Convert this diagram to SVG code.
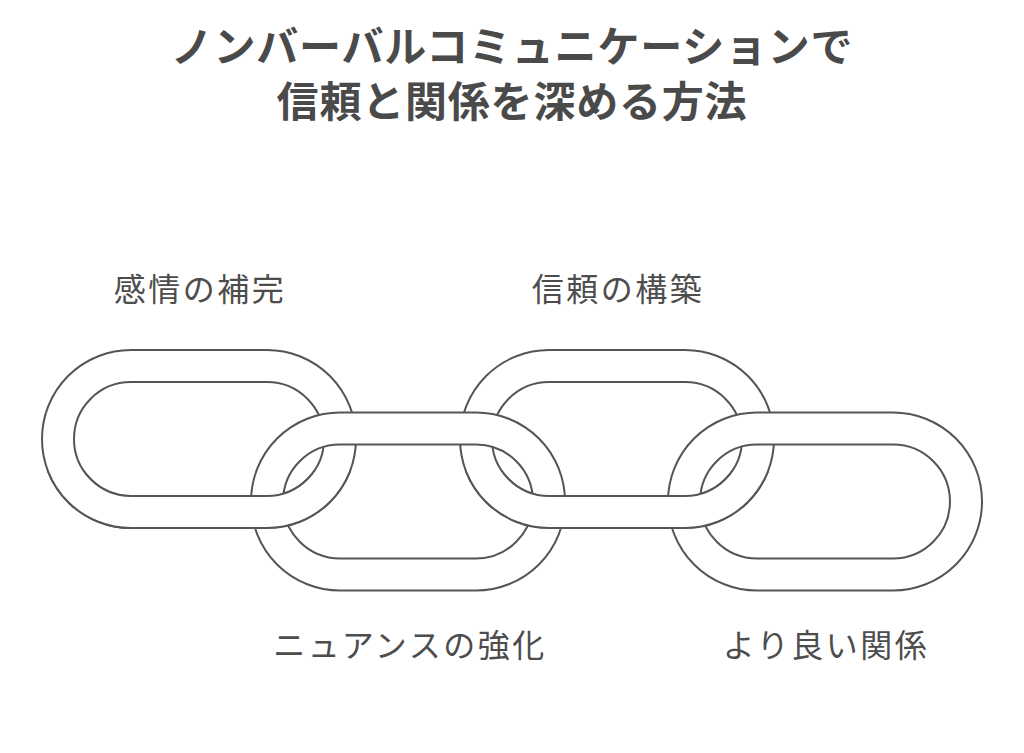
<svg xmlns="http://www.w3.org/2000/svg" xmlns:xlink="http://www.w3.org/1999/xlink" width="1024" height="753" viewBox="0 0 1024 753">
  <style>
    .ring { fill: #ffffff; fill-rule: evenodd; stroke: #555555; stroke-width: 2; }
    .title { font-family: "Noto Sans CJK JP", "Noto Sans", sans-serif; font-weight: 700; font-size: 42px; letter-spacing: 0.8px; fill: #4a4a4a; text-anchor: middle; }
    .label { font-family: "Noto Sans CJK JP", "Noto Sans", sans-serif; font-weight: 400; font-size: 32px; letter-spacing: 2.5px; fill: #4d4d4d; text-anchor: middle; }
  </style>
  <defs>
    <path id="ring1" d="M131,350 H267 A89,89 0 0 1 267,528 H131 A89,89 0 0 1 131,350 Z M131,382 H267 A57,57 0 0 1 267,496 H131 A57,57 0 0 1 131,382 Z"/>
    <path id="ring2" d="M340,412.5 H476 A89,89 0 0 1 476,590.5 H340 A89,89 0 0 1 340,412.5 Z M340,444.5 H476 A57,57 0 0 1 476,558.5 H340 A57,57 0 0 1 340,444.5 Z"/>
    <path id="ring3" d="M549,350 H685 A89,89 0 0 1 685,528 H549 A89,89 0 0 1 549,350 Z M549,382 H685 A57,57 0 0 1 685,496 H549 A57,57 0 0 1 549,382 Z"/>
    <path id="ring4" d="M757,412.5 H893 A89,89 0 0 1 893,590.5 H757 A89,89 0 0 1 757,412.5 Z M757,444.5 H893 A57,57 0 0 1 893,558.5 H757 A57,57 0 0 1 757,444.5 Z"/>
    <clipPath id="lowerHalf">
      <rect x="0" y="470" width="1024" height="200"/>
    </clipPath>
  </defs>
  <rect x="0" y="0" width="1024" height="753" fill="#ffffff"/>

  <g id="title">
    <text class="title" x="512" y="62">ノンバーバルコミュニケーションで</text>
    <text class="title" x="512" y="117">信頼と関係を深める方法</text>
  </g>

  <g id="node-kanjou">
    <use xlink:href="#ring1" href="#ring1" class="ring"/>
    <text class="label" x="200" y="301">感情の補完</text>
  </g>
  <g id="node-shinrai">
    <use xlink:href="#ring3" href="#ring3" class="ring"/>
    <text class="label" x="618" y="301">信頼の構築</text>
  </g>
  <g id="node-nuance">
    <use xlink:href="#ring2" href="#ring2" class="ring"/>
    <text class="label" x="410" y="657">ニュアンスの強化</text>
  </g>
  <g id="node-kankei">
    <use xlink:href="#ring4" href="#ring4" class="ring"/>
    <text class="label" x="826" y="657">より良い関係</text>
  </g>

  <g id="interlock-overlaps" clip-path="url(#lowerHalf)">
    <use xlink:href="#ring1" href="#ring1" class="ring"/>
    <use xlink:href="#ring3" href="#ring3" class="ring"/>
  </g>
</svg>
